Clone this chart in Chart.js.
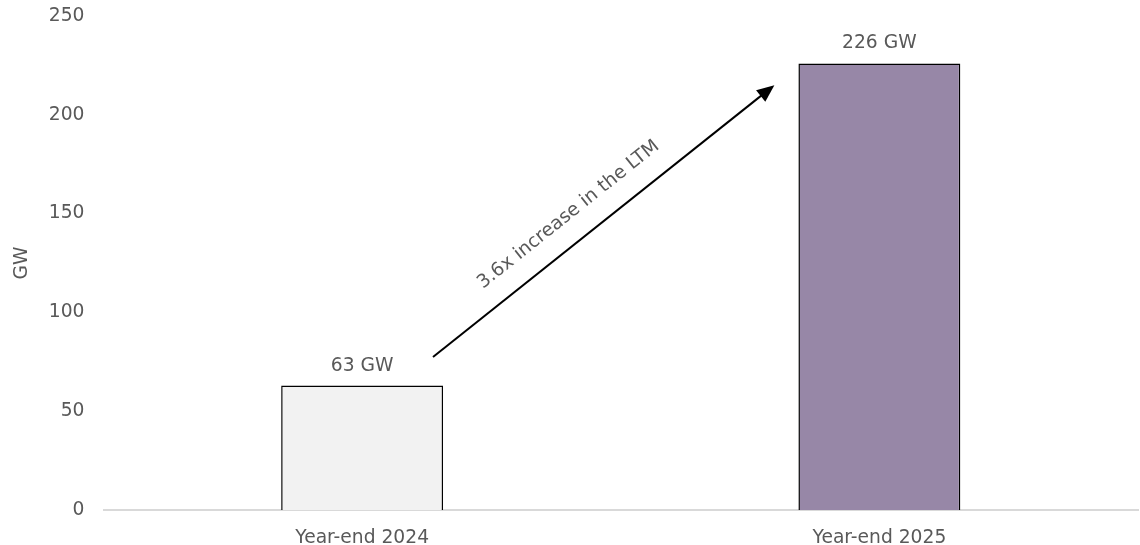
<!DOCTYPE html>
<html>
<head>
<meta charset="utf-8">
<script src="https://cdn.jsdelivr.net/npm/chart.js@4/dist/chart.umd.min.js"></script>
<style>
  html, body { margin: 0; padding: 0; background: #fff; }
  #wrap { width: 1140px; height: 545px; position: relative; }
</style>
</head>
<body>
<div id="wrap"><canvas id="capacityChart"></canvas></div>
<script>
// Data
const categories = ['Year-end 2024', 'Year-end 2025'];
const capacityGW = [63, 226];
const barColors = ['#f2f2f2', '#9787a7'];
const yTicks = [0, 50, 100, 150, 200, 250];
const arrowNote = '3.6x increase in the LTM';
// arrow endpoints in data units: [category index, GW]
const arrowFrom = [0.137, 77.4];
const arrowTo = [0.797, 215];

const FONT = "'DejaVu Sans', Verdana, sans-serif";
const FONT_SIZE = 18.7;
const TEXT_GREY = '#595959';

// value labels above each bar
const valueLabels = {
    id: 'valueLabels',
    afterDatasetsDraw(chart) {
        const ctx = chart.ctx;
        const meta = chart.getDatasetMeta(0);
        ctx.save();
        ctx.font = FONT_SIZE + 'px ' + FONT;
        ctx.fillStyle = TEXT_GREY;
        ctx.textAlign = 'center';
        ctx.textBaseline = 'alphabetic';
        meta.data.forEach((bar, i) => {
            ctx.fillText(capacityGW[i] + ' GW', bar.x, bar.y - 15);
        });
        ctx.restore();
    }
};

// growth arrow with rotated note
const growthArrow = {
    id: 'growthArrow',
    afterDatasetsDraw(chart) {
        const { ctx, scales: { x, y } } = chart;
        const x0 = x.getPixelForValue(arrowFrom[0]);
        const y0 = y.getPixelForValue(arrowFrom[1]);
        const x1 = x.getPixelForValue(arrowTo[0]);
        const y1 = y.getPixelForValue(arrowTo[1]);
        const ang = Math.atan2(y1 - y0, x1 - x0);
        const head = 19;

        ctx.save();
        ctx.strokeStyle = '#000';
        ctx.lineWidth = 2;
        ctx.beginPath();
        ctx.moveTo(x0, y0);
        ctx.lineTo(x1 - Math.cos(ang) * head * 0.8, y1 - Math.sin(ang) * head * 0.8);
        ctx.stroke();

        ctx.fillStyle = '#000';
        ctx.beginPath();
        ctx.moveTo(x1, y1);
        ctx.lineTo(x1 - head * Math.cos(ang - 0.4), y1 - head * Math.sin(ang - 0.4));
        ctx.lineTo(x1 - head * Math.cos(ang + 0.4), y1 - head * Math.sin(ang + 0.4));
        ctx.closePath();
        ctx.fill();

        // note runs parallel to the arrow, just above it
        const mx = x0 + (x1 - x0) * 0.446;
        const my = y0 + (y1 - y0) * 0.446;
        ctx.translate(mx, my);
        ctx.rotate(ang);
        ctx.font = FONT_SIZE + 'px ' + FONT;
        ctx.fillStyle = TEXT_GREY;
        ctx.textAlign = 'center';
        ctx.textBaseline = 'middle';
        ctx.fillText(arrowNote, 0, -27);
        ctx.restore();
    }
};

const ctx = document.getElementById('capacityChart').getContext('2d');
new Chart(ctx, {
    type: 'bar',
    data: {
        labels: categories,
        datasets: [{
            data: capacityGW,
            backgroundColor: barColors,
            borderColor: '#000',
            borderWidth: 1.5,
            categoryPercentage: 1,
            barPercentage: 0.313
        }]
    },
    options: {
        responsive: true,
        maintainAspectRatio: false,
        animation: false,
        layout: { padding: { top: 16, right: 2, left: 11, bottom: 0 } },
        plugins: {
            legend: { display: false },
            tooltip: { enabled: false }
        },
        scales: {
            x: {
                grid: { display: false, drawTicks: false },
                border: { display: true, color: '#d9d9d9', width: 2 },
                ticks: { color: TEXT_GREY, font: { family: FONT, size: FONT_SIZE }, padding: 16.5 },
                afterFit: (scale) => { scale.height = 35; }
            },
            y: {
                min: 0,
                max: 250,
                afterBuildTicks: (scale) => { scale.ticks = yTicks.map(v => ({ value: v })); },
                grid: { display: false, drawTicks: false },
                border: { display: false },
                ticks: { color: TEXT_GREY, font: { family: FONT, size: FONT_SIZE }, padding: 19 },
                title: { display: true, text: 'GW', color: TEXT_GREY, font: { family: FONT, size: FONT_SIZE }, padding: 0 },
                afterFit: (scale) => {
                    scale.width = 92.5;
                    // let the layout padding alone decide the top/bottom inset
                    scale.paddingTop = 0;
                    scale.paddingBottom = 0;
                }
            }
        }
    },
    plugins: [valueLabels, growthArrow]
});
</script>
</body>
</html>
